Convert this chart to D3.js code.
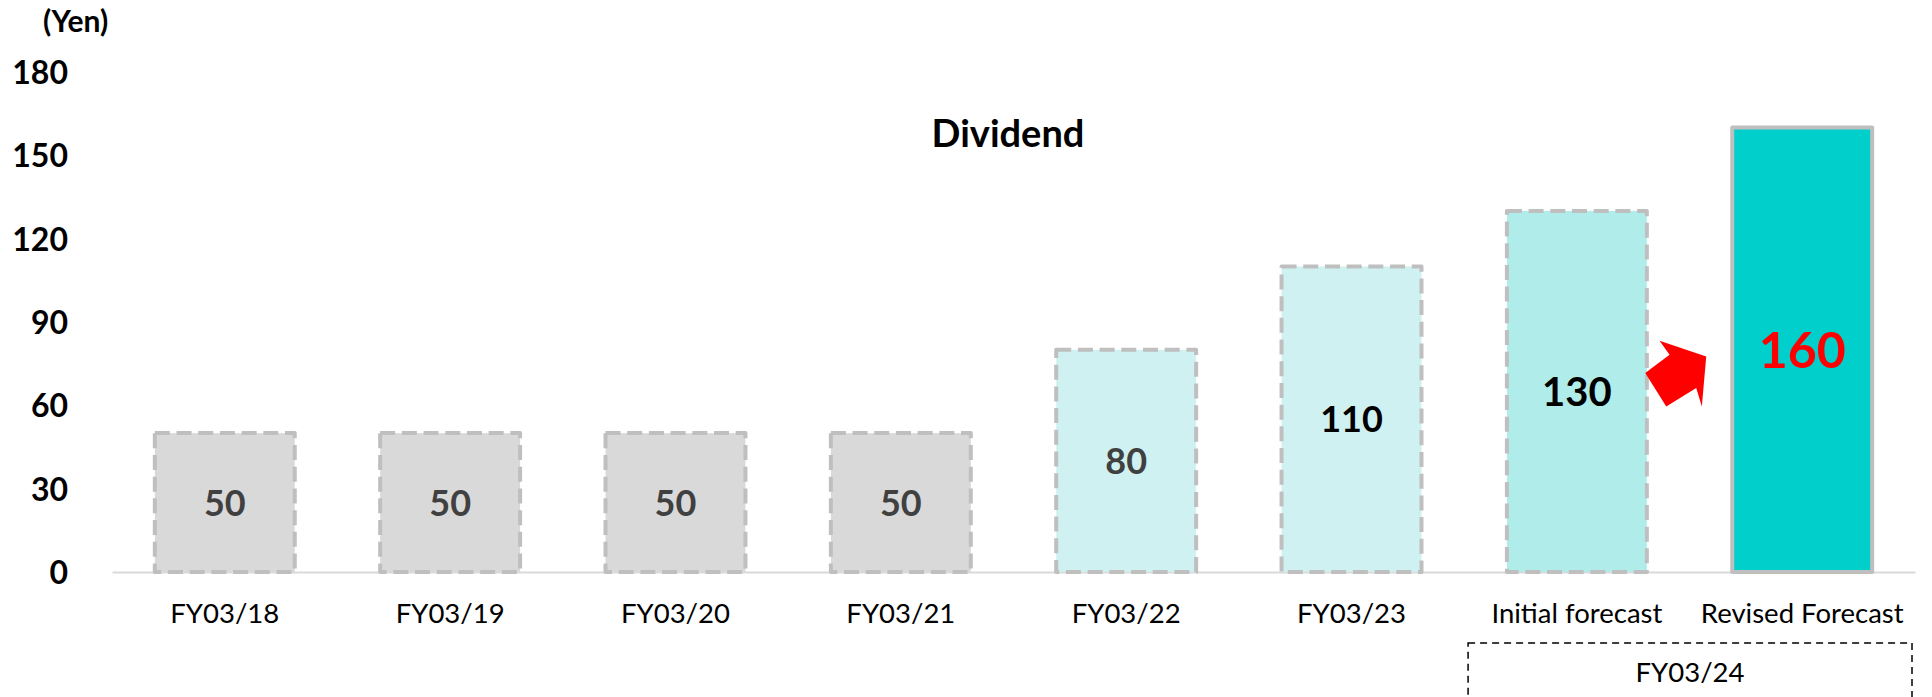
<!DOCTYPE html>
<html>
<head>
<meta charset="utf-8">
<script src="https://cdn.jsdelivr.net/npm/d3@7"></script>
<style>
  html, body { margin: 0; padding: 0; background: #ffffff; }
  svg { display: block; font-family: Lato, "Open Sans", sans-serif; }
</style>
</head>
<body>
<svg id="chart" width="1932" height="697"></svg>
<script>
// Dividend per share (yen) by fiscal year
const categories = ["FY03/18", "FY03/19", "FY03/20", "FY03/21", "FY03/22", "FY03/23", "Initial forecast", "Revised Forecast"];
const dividends  = [50, 50, 50, 50, 80, 110, 130, 160];
const yTicks     = [0, 30, 60, 90, 120, 150, 180];
const groupLabel = "FY03/24";
const groupCats  = ["Initial forecast", "Revised Forecast"];

// Bar styling per category
const fills      = ["#d9d9d9", "#d9d9d9", "#d9d9d9", "#d9d9d9", "#cff1f1", "#cff1f1", "#afecea", "#00cfcb"];
const dashed     = [true, true, true, true, true, true, true, false];
const labelColor = ["#404040", "#404040", "#404040", "#404040", "#404040", "#000000", "#000000", "#ff0000"];
const labelSize  = [36, 36, 36, 36, 36, 36, 40, 50];

const svg = d3.select("#chart");

const x = d3.scaleBand()
  .domain(categories)
  .range([112, 1915])
  .paddingInner(0.379)
  .paddingOuter(0.19);

const y = d3.scaleLinear()
  .domain([0, 180])
  .range([572, 72]);

// Y axis (labels only)
const yAxis = svg.append("g")
  .attr("transform", `translate(${x.range()[0]},0)`)
  .call(d3.axisLeft(y).tickValues(yTicks).tickSize(0).tickPadding(44));
yAxis.select(".domain").remove();
yAxis.selectAll("text")
  .attr("font-family", "Lato, sans-serif")
  .attr("font-size", 32)
  .attr("font-weight", 700)
  .attr("fill", "#000")
  .attr("dy", "0.36em");

// Unit label
svg.append("text")
  .attr("x", 43).attr("y", 32)
  .attr("font-size", 30).attr("font-weight", 700)
  .attr("fill", "#000")
  .text("(Yen)");

// Title
svg.append("text")
  .attr("x", 1008).attr("y", 147)
  .attr("text-anchor", "middle")
  .attr("font-size", 38).attr("font-weight", 700)
  .attr("fill", "#000")
  .text("Dividend");

// X axis baseline + category labels
const xAxis = svg.append("g")
  .attr("transform", `translate(0,${y(0)})`)
  .call(d3.axisBottom(x).tickSize(0).tickSizeOuter(0).tickPadding(0));
xAxis.select(".domain")
  .attr("stroke", "#d9d9d9")
  .attr("stroke-width", 2);
xAxis.selectAll("text")
  .attr("font-family", "Lato, sans-serif")
  .attr("font-size", 27.5)
  .attr("fill", "#000")
  .attr("dy", null)
  .attr("y", 51);

// Bars
const data = categories.map((c, i) => ({ cat: c, value: dividends[i], i }));

svg.append("g").selectAll("rect")
  .data(data)
  .join("rect")
  .attr("x", d => x(d.cat))
  .attr("y", d => y(d.value))
  .attr("width", x.bandwidth())
  .attr("height", d => y(0) - y(d.value))
  .attr("fill", d => fills[d.i])
  .attr("stroke", "#bfbfbf")
  .attr("stroke-width", 4)
  .attr("stroke-linejoin", "round")
  .attr("stroke-dasharray", d => dashed[d.i] ? "15 6.7" : null);

// Value labels, centred in each bar
svg.append("g").selectAll("text")
  .data(data)
  .join("text")
  .attr("x", d => x(d.cat) + x.bandwidth() / 2)
  .attr("y", d => (y(d.value) + y(0)) / 2)
  .attr("dy", "0.36em")
  .attr("text-anchor", "middle")
  .attr("font-size", d => labelSize[d.i])
  .attr("font-weight", 700)
  .attr("fill", d => labelColor[d.i])
  .text(d => d.value);

// Red arrow from the initial forecast to the revised forecast
const iA = categories.indexOf("Initial forecast");
const iB = categories.indexOf("Revised Forecast");
const ax = (x(categories[iA]) + x.bandwidth() + x(categories[iB])) / 2;
const ay = ((y(dividends[iA]) + y(0)) / 2 + (y(dividends[iB]) + y(0)) / 2) / 2;
const arrowShape = [
  [-44.3, 2.5], [-20, -15.8], [-30, -29.8], [16.7, -14.2],
  [12.3, 35.8], [6.7, 17.5], [-23.3, 35.8]
];
svg.append("polygon")
  .attr("points", arrowShape.map(p => [ax + p[0], ay + p[1]].join(",")).join(" "))
  .attr("fill", "#ff0000");

// Fiscal-year bracket under the two forecast bars
const gx0 = x(groupCats[0]) - x.step() * x.paddingOuter() + 4;
const gx1 = x(groupCats[1]) + x.bandwidth() + x.step() * x.paddingOuter() - 3;
svg.append("rect")
  .attr("x", gx0).attr("y", 643)
  .attr("width", gx1 - gx0).attr("height", 80)
  .attr("fill", "none")
  .attr("stroke", "#000")
  .attr("stroke-width", 1.5)
  .attr("stroke-dasharray", "7 5");
svg.append("text")
  .attr("x", (gx0 + gx1) / 2).attr("y", 682)
  .attr("text-anchor", "middle")
  .attr("font-size", 27.5)
  .attr("fill", "#000")
  .text(groupLabel);
</script>
</body>
</html>
